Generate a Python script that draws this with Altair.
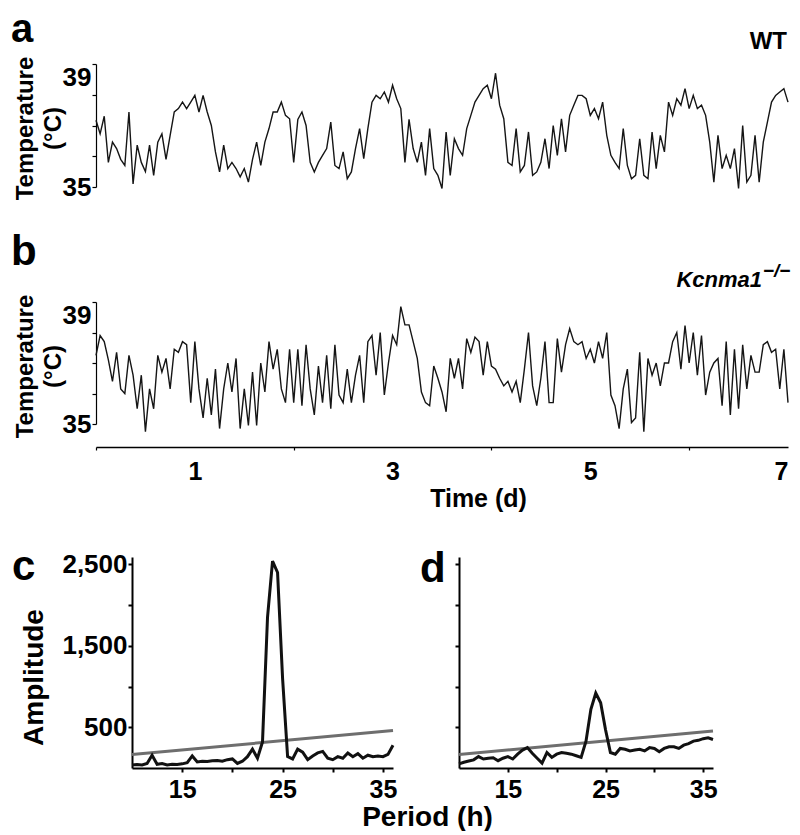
import altair as alt
import pandas as pd

FONT = "Liberation Sans"

# ---------------- data ----------------
hours = list(range(169))  # hourly samples over 7 days

wt_temp = [37.17, 36.73, 37.3, 35.8, 36.46, 36.25, 35.9, 35.7, 37.44, 35.1,
           36.36, 35.8, 35.5, 36.36, 35.38, 36.46, 36.73, 35.9, 36.68, 37.44,
           37.55, 37.76, 37.55, 37.76, 37.98, 37.44, 37.98, 37.44, 37.0, 36.14,
           35.49, 36.36, 35.6, 35.8, 35.6, 35.33, 35.6, 35.16, 35.9, 36.46,
           35.7, 36.46, 36.9, 37.44, 37.44, 37.76, 37.33, 37.22, 35.8, 37.2,
           37.44, 37.0, 35.8, 35.49, 35.8, 36.03, 36.25, 37.11, 35.7, 35.6,
           36.14, 35.27, 35.49, 36.25, 36.9, 35.92, 36.9, 37.76, 37.98, 37.87,
           38.09, 37.76, 38.31, 37.87, 37.55, 35.8, 37.2, 36.25, 35.8, 36.46,
           35.38, 36.9, 35.6, 35.38, 34.95, 36.79, 35.38, 36.57, 36.25, 36.03,
           36.9, 37.33, 37.76, 37.98, 38.2, 38.31, 37.87, 38.7, 37.66, 37.22,
           35.8, 35.7, 36.9, 35.49, 35.7, 36.79, 35.38, 35.49, 35.8, 36.57,
           35.6, 37.0, 36.03, 37.22, 36.14, 37.33, 37.66, 37.98, 37.98, 37.87,
           37.33, 37.55, 37.22, 37.76, 36.68, 36.03, 35.8, 35.6, 36.9, 35.7,
           35.27, 35.38, 36.57, 35.38, 35.27, 36.79, 35.6, 36.68, 36.14, 37.76,
           37.33, 37.87, 37.66, 38.2, 37.55, 37.98, 37.55, 37.66, 37.33, 36.46,
           35.16, 36.68, 35.6, 36.03, 35.6, 36.25, 34.95, 37.0, 35.16, 35.38,
           36.68, 35.16, 36.46, 37.11, 37.76, 37.98, 38.09, 38.2, 37.76]

ko_temp = [37.25, 37.9, 37.7, 37.1, 36.4, 37.35, 36.15, 36.0, 37.25, 36.6,
           35.5, 36.6, 34.75, 36.15, 35.5, 37.25, 36.7, 37.15, 36.15, 37.45,
           37.35, 37.7, 37.6, 35.7, 37.7, 36.15, 35.2, 36.5, 35.3, 36.8,
           34.85, 36.15, 37.0, 36.05, 37.15, 34.85, 36.15, 34.95, 36.7, 34.95,
           37.0, 36.05, 37.7, 36.8, 37.45, 36.15, 35.7, 37.45, 35.7, 37.45,
           35.6, 37.6, 36.15, 35.3, 36.9, 35.7, 37.25, 35.5, 37.6, 35.95,
           35.7, 36.8, 35.7, 36.6, 37.25, 35.7, 37.7, 37.9, 36.6, 38.0,
           35.95, 37.0, 37.9, 37.6, 38.85, 38.25, 38.25, 37.7, 37.15, 36.05,
           35.7, 35.6, 36.9, 36.5, 36.05, 35.4, 37.15, 36.5, 37.15, 36.15,
           37.8, 37.35, 37.85, 37.7, 36.6, 37.7, 36.9, 36.8, 36.5, 36.25,
           36.4, 36.05, 36.4, 35.7, 36.8, 38.0, 36.25, 35.6, 36.5, 37.7,
           35.7, 35.7, 37.8, 36.7, 37.6, 38.13, 37.7, 37.6, 37.7, 37.15,
           37.45, 37.0, 37.7, 37.15, 38.0, 35.95, 35.6, 34.85, 36.15, 36.8,
           35.05, 35.2, 37.35, 34.75, 37.15, 36.6, 37.0, 36.25, 37.0, 37.0,
           37.7, 38.0, 36.8, 38.23, 37.0, 38.0, 36.6, 37.9, 35.95, 36.7,
           37.0, 37.15, 35.6, 37.7, 35.3, 37.45, 35.5, 37.6, 36.15, 37.25,
           36.7, 36.7, 37.6, 37.7, 37.35, 37.45, 36.15, 37.45, 35.7]

periods = [10 + 0.5 * i for i in range(53)]  # 10 .. 36 h

amp_wt = [37, 42, 37, 55, 157, 46, 55, 37, 46, 42,
          51, 65, 148, 74, 83, 79, 88, 93, 83, 102,
          111, 56, 83, 139, 232, 120, 320, 1850, 2540, 2400,
          1100, 140, 111, 232, 194, 102, 148, 185, 204, 120,
          102, 139, 120, 185, 139, 176, 120, 157, 139, 148,
          139, 167, 278]

amp_ko = [50, 70, 85, 100, 140, 110, 120, 126, 90, 120,
          140, 110, 170, 220, 250, 180, 120, 60, 190, 130,
          170, 190, 180, 170, 150, 130, 330, 720, 920, 800,
          470, 190, 170, 240, 230, 210, 220, 230, 210, 250,
          240, 200, 240, 260, 260, 240, 280, 300, 330, 340,
          360, 370, 350]

sig_period = [10, 36]
sig_wt = [165, 460]
sig_ko = [165, 455]

# ---------------- helpers ----------------
def txt(s, x, y, size, align="left", style="normal"):
    return alt.Chart(pd.DataFrame({"s": [s]})).mark_text(
        align=align, baseline="alphabetic", fontSize=size, font=FONT,
        fontWeight="bold", fontStyle=style, color="black"
    ).encode(text="s:N", x=alt.value(x), y=alt.value(y))


top_label = {"condition": {"test": "datum.value === 39", "value": "top"}, "value": "middle"}


def temp_axis():
    return alt.Axis(values=[35, 36, 37, 38, 39],
                    labelExpr="datum.value == 35 || datum.value == 39 ? datum.label : ''",
                    labelBaseline=top_label, labelFontSize=26, labelPadding=1,
                    tickSize=4, tickWidth=1.2, domainWidth=1.2,
                    title=["Temperature", "(°C)"], titleX=-64, titleY=64,
                    titleAngle=270, titleAlign="center", titleBaseline="alphabetic",
                    titleFontSize=24, titleLineHeight=28)


dfA = pd.DataFrame({"day": [h / 24 for h in hours], "temp": wt_temp})
dfB = pd.DataFrame({"day": [h / 24 for h in hours], "temp": ko_temp})

lineA = alt.Chart(dfA).mark_line(color="#151515", strokeWidth=1.4).encode(
    x=alt.X("day:Q", scale=alt.Scale(domain=[0, 7], nice=False, zero=False), axis=None),
    y=alt.Y("temp:Q", scale=alt.Scale(domain=[35, 39], nice=False, zero=False), axis=temp_axis()),
)
rowA = alt.layer(
    lineA,
    txt("a", -85, -22, 40),
    txt("WT", 691, -15, 24, align="right"),
).properties(width=692, height=123)

lineB = alt.Chart(dfB).mark_line(color="#151515", strokeWidth=1.4).encode(
    x=alt.X("day:Q", scale=alt.Scale(domain=[0, 7], nice=False, zero=False),
            axis=alt.Axis(values=list(range(8)),
                          labelExpr="datum.value % 2 == 1 ? datum.label : ''",
                          tickOpacity={"condition": {"test": "datum.value % 2 == 0", "value": 1}, "value": 0},
                          offset=5, tickSize=3, tickWidth=1.2, domainWidth=1.3,
                          labelFontSize=25, labelPadding=9, labelBaseline="top",
                          title="Time (d)", titleX=382, titleY=59, titleAlign="center",
                          titleBaseline="alphabetic", titleFontSize=25)),
    y=alt.Y("temp:Q", scale=alt.Scale(domain=[35, 39], range=[122, 0], nice=False, zero=False),
            axis=temp_axis()),
)
rowB = alt.layer(
    lineB,
    txt("b", -85, -37, 42),
    txt("Kcnma1", 666, -15, 22, align="right", style="italic"),
    txt("\u2212/\u2212", 667, -25, 19, align="left", style="italic"),
).properties(width=692, height=140)


def period_x(title, title_x):
    kw = dict(values=[15, 20, 25, 30, 35],
              labelExpr="datum.value % 10 == 5 ? datum.label : ''",
              tickSize=4, tickWidth=2, domainWidth=2,
              labelFontSize=25, labelPadding=5, labelBaseline="top")
    if title:
        kw.update(title=title, titleX=title_x, titleY=57, titleAlign="center",
                  titleBaseline="alphabetic", titleFontSize=28)
    else:
        kw.update(title=None)
    return alt.Axis(**kw)


dfC = pd.DataFrame({"period": periods, "amp": amp_wt})
dfD = pd.DataFrame({"period": periods, "amp": amp_ko})
dfCs = pd.DataFrame({"period": sig_period, "amp": sig_wt})
dfDs = pd.DataFrame({"period": sig_period, "amp": sig_ko})

xC = alt.X("period:Q", scale=alt.Scale(domain=[10, 36], range=[36, 297], nice=False, zero=False),
           axis=period_x("Period (h)", 331))
yC = alt.Y("amp:Q", scale=alt.Scale(domain=[0, 2590], nice=False),
           axis=alt.Axis(values=[500, 1000, 1500, 2000, 2500],
                         labelExpr="datum.value % 1000 == 500 ? format(datum.value, ',') : ''",
                         offset=-36, tickSize=4, tickWidth=2, domainWidth=2,
                         labelFontSize=26, labelPadding=1,
                         title="Amplitude", titleX=-90, titleY=120, titleAngle=270,
                         titleAlign="center", titleBaseline="alphabetic", titleFontSize=28))
panelC = alt.layer(
    alt.Chart(dfCs).mark_line(color="#6e6e6e", strokeWidth=3).encode(x=xC, y=yC),
    alt.Chart(dfC).mark_line(color="#111111", strokeWidth=3).encode(x=xC, y=yC),
    txt("c", -84, 23, 42),
).properties(width=297, height=211)

xD = alt.X("period:Q", scale=alt.Scale(domain=[10, 36], nice=False, zero=False),
           axis=period_x(None, 0))
yD = alt.Y("amp:Q", scale=alt.Scale(domain=[0, 2590], nice=False),
           axis=alt.Axis(values=[500, 1000, 1500, 2000, 2500], labels=False, title=None,
                         tickSize=4, tickWidth=2, domainWidth=2))
panelD = alt.layer(
    alt.Chart(dfDs).mark_line(color="#6e6e6e", strokeWidth=3).encode(x=xD, y=yD),
    alt.Chart(dfD).mark_line(color="#111111", strokeWidth=3).encode(x=xD, y=yD),
    txt("d", -39, 25, 42),
).properties(width=254, height=211)

rowC = alt.hconcat(panelC, panelD, spacing=66, bounds="flush")

chart = alt.vconcat(rowA, rowB, rowC, spacing=115, bounds="flush").properties(
    padding={"left": 3, "top": 2, "right": 0, "bottom": 0}
).configure_view(stroke=None).configure_axis(
    grid=False, labelFont=FONT, labelFontWeight="bold", labelColor="black",
    titleFont=FONT, titleFontWeight="bold", titleColor="black",
    domainColor="black", tickColor="black"
)

chart.save("out.html", embed_options={"renderer": "svg", "actions": False})
